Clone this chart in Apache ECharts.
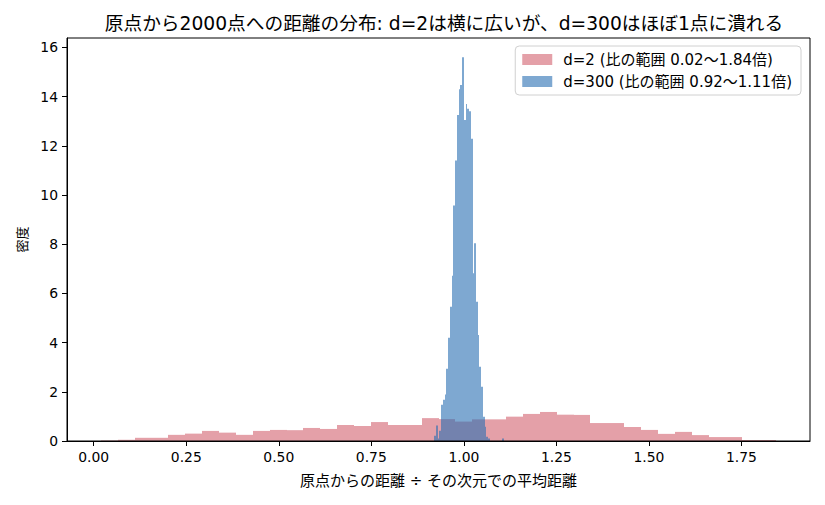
<!DOCTYPE html>
<html><head><meta charset="utf-8">
<script src="https://cdn.jsdelivr.net/npm/echarts@6/dist/echarts.min.js"></script>
<style>html,body{margin:0;padding:0;background:#fff}#c{width:825px;height:505px}</style>
</head><body><div id="c"></div>
<script>
// ---- data ----
const redLabel = 'd=2 (比の範囲 0.02〜1.84倍)';
const blueLabel = 'd=300 (比の範囲 0.92〜1.11倍)';
const redRange = [0.019, 1.844];
const blueRange = [0.92, 1.108];
const redDensity = [0.02, 0.05, 0.13, 0.13, 0.25, 0.30, 0.41, 0.34, 0.25, 0.41,
  0.45, 0.44, 0.53, 0.49, 0.65, 0.61, 0.77, 0.65, 0.65, 0.93,
  0.89, 0.79, 0.88, 0.88, 0.99, 1.10, 1.18, 1.07, 1.06, 0.73,
  0.73, 0.57, 0.45, 0.29, 0.37, 0.24, 0.16, 0.16, 0.04, 0.04];
const blueDensity = [0.21, 0.63, 0.10, 0.42, 1.47, 1.68, 1.89, 2.94, 4.20, 5.46,
  6.72, 9.57, 11.40, 13.25, 14.30, 14.47, 15.60, 13.05, 13.70, 13.50,
  13.40, 12.28, 6.82, 8.04, 5.66, 4.31, 3.02, 2.21, 0.99, 0.58,
  0.17, 0.10, 0, 0, 0, 0, 0, 0, 0, 0.10];
const xTicks = [0, 0.25, 0.5, 0.75, 1.0, 1.25, 1.5, 1.75];
const yTicks = [0, 2, 4, 6, 8, 10, 12, 14, 16];
const titleText = '原点から2000点への距離の分布: d=2は横に広いが、d=300はほぼ1点に潰れる';
const xName = '原点からの距離 ÷ その次元での平均距離';
const yName = '密度';

// ---- build ----
function bins(range, dens) {
  const n = dens.length, w = (range[1] - range[0]) / n;
  return dens.map((h, i) => [range[0] + i * w, range[0] + (i + 1) * w, h]);
}
const FONT = '"DejaVu Sans", "Noto Sans CJK JP", sans-serif';
const redColor = 'rgba(210,97,110,0.6)';
const blueColor = 'rgba(40,110,178,0.6)';
const xMinD = Math.min(redRange[0], blueRange[0]), xMaxD = Math.max(redRange[1], blueRange[1]);
const xPad = (xMaxD - xMinD) * 0.05;
const yMax = Math.max(...blueDensity, ...redDensity) * 1.05;

function renderBar(color) {
  return function (params, api) {
    const p0 = api.coord([api.value(0), api.value(2)]);
    const p1 = api.coord([api.value(1), 0]);
    const xa = Math.round(p0[0]), xb = Math.round(p1[0]);
    return { type: 'rect', shape: { x: xa, y: p0[1], width: xb - xa, height: p1[1] - p0[1] },
      style: { fill: color } };
  };
}

const chart = echarts.init(document.getElementById('c'), null, { renderer: 'svg' });
chart.setOption({
  animation: false,
  textStyle: { fontFamily: FONT },
  graphic: [{ type: 'text', x: 444, y: 23,
    style: { text: titleText, font: '18.7px ' + FONT, fill: '#000', align: 'center', verticalAlign: 'middle' } }],
  grid: { left: 67, right: 15, top: 38, bottom: 64, show: true, borderColor: '#000', borderWidth: 1, z: 5 },
  legend: {
    orient: 'vertical', right: 24, top: 46, itemWidth: 30, itemHeight: 11, itemGap: 7,
    backgroundColor: '#fff', borderColor: '#d0d0d0', borderWidth: 1, borderRadius: 4, padding: [6, 9, 6, 7],
    textStyle: { fontSize: 15, lineHeight: 15, color: '#000', fontFamily: FONT, padding: [0, 0, 0, 6] },
    data: [{ name: redLabel, icon: 'rect' }, { name: blueLabel, icon: 'rect' }]
  },
  xAxis: {
    type: 'value', min: xMinD - xPad, max: xMaxD + xPad, z: 6,
    axisLine: { show: true, onZero: false, lineStyle: { color: '#000', width: 1 } },
    axisTick: { show: true, length: 5, customValues: xTicks, lineStyle: { color: '#000' } },
    axisLabel: { customValues: xTicks, margin: 9, fontSize: 13.9, color: '#000', fontFamily: FONT,
      formatter: v => v.toFixed(2) },
    splitLine: { show: false },
    name: xName, nameLocation: 'middle', nameGap: 32,
    nameTextStyle: { fontSize: 15, color: '#000', fontFamily: FONT }
  },
  yAxis: {
    type: 'value', min: 0, max: yMax, z: 6,
    axisLine: { show: true, onZero: false, lineStyle: { color: '#000', width: 1 } },
    axisTick: { show: true, length: 5, customValues: yTicks, lineStyle: { color: '#000' } },
    axisLabel: { customValues: yTicks, margin: 9, fontSize: 13.9, color: '#000', fontFamily: FONT },
    splitLine: { show: false },
    name: yName, nameLocation: 'middle', nameGap: 38,
    nameTextStyle: { fontSize: 13, color: '#000', fontFamily: FONT }
  },
  series: [
    { name: redLabel, type: 'custom', renderItem: renderBar(redColor), itemStyle: { color: redColor },
      encode: { x: [0, 1], y: 2 }, data: bins(redRange, redDensity) },
    { name: blueLabel, type: 'custom', renderItem: renderBar(blueColor), itemStyle: { color: blueColor },
      encode: { x: [0, 1], y: 2 }, data: bins(blueRange, blueDensity) }
  ]
});
</script></body></html>
